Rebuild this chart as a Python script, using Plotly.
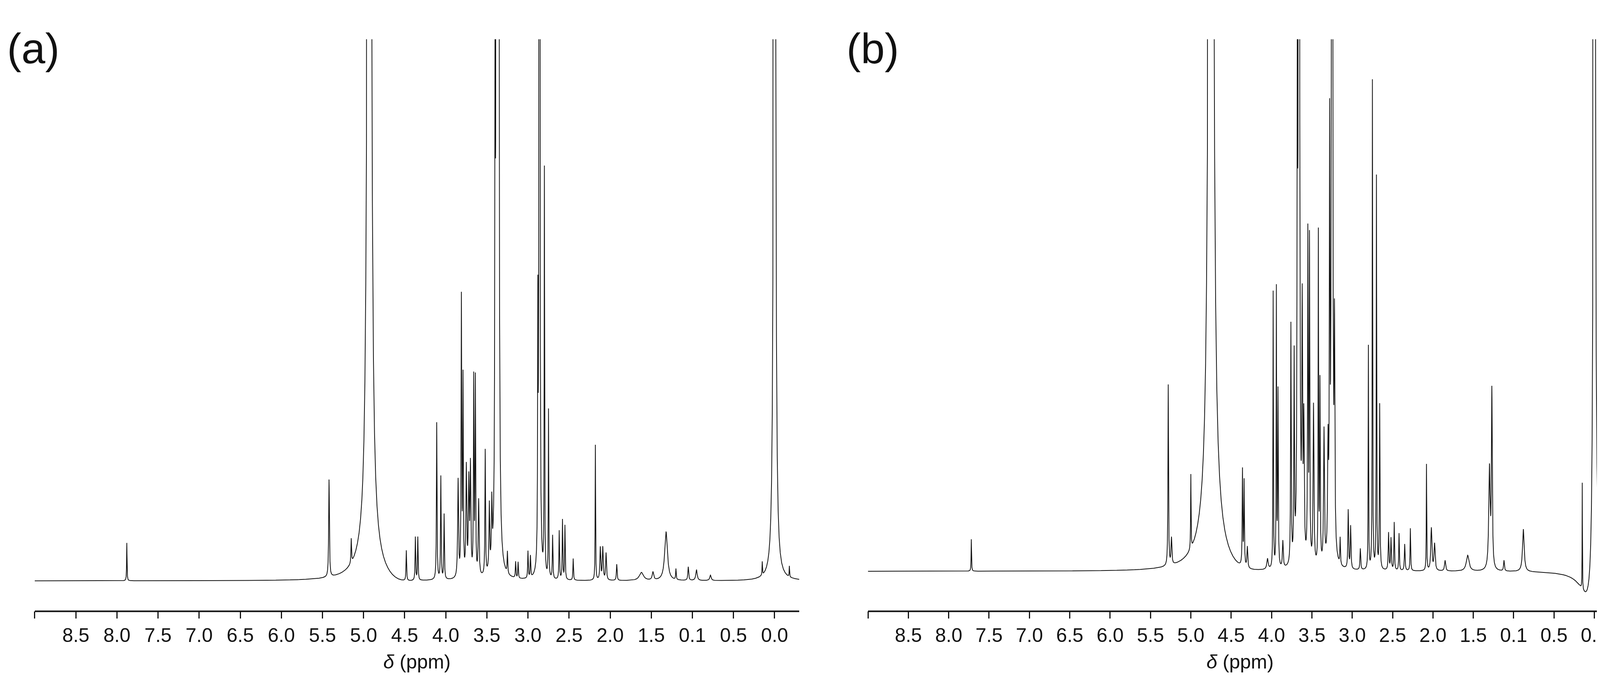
import numpy as np
import plotly.graph_objects as go

# Peak lists: position (ppm), height (relative, 1 = top of plot), half-width (ppm)
a_ppm = [7.88, 5.42, 5.15, 4.93, 4.93, 4.48, 4.37, 4.34, 4.11, 4.06, 4.02, 3.85, 3.81, 3.79, 3.75, 3.72, 3.70,
         3.66, 3.64, 3.60, 3.52, 3.47, 3.44, 3.40, 3.38, 3.36, 3.25, 3.15, 3.12, 3.00, 2.97, 2.88, 2.86,
         2.80, 2.75, 2.70, 2.62, 2.58, 2.55, 2.45, 2.18, 2.12, 2.09, 2.05, 1.92, 1.62, 1.48, 1.32, 1.20,
         1.05, 0.95, 0.78, 0.15, 0.00, -0.18, 4.60]
a_h = [0.07, 0.18, 0.045, 15, 0.05, 0.056, 0.08, 0.08, 0.29, 0.19, 0.12, 0.18, 0.51, 0.36, 0.2, 0.17, 0.2,
       0.36, 0.36, 0.14, 0.23, 0.12, 0.11, 0.79, 6, 6, 0.04, 0.03, 0.03, 0.05, 0.04, 0.43, 6,
       0.75, 0.31, 0.08, 0.09, 0.11, 0.1, 0.04, 0.25, 0.06, 0.06, 0.05, 0.03, 0.015, 0.015, 0.09, 0.02,
       0.025, 0.02, 0.01, 0.025, 10, 0.02, -0.012]
a_w = [0.003, 0.005, 0.004, 0.008, 0.15, 0.004, 0.004, 0.004, 0.004, 0.004, 0.004, 0.006, 0.004, 0.004, 0.006, 0.006, 0.006,
       0.004, 0.004, 0.006, 0.004, 0.005, 0.005, 0.004, 0.004, 0.004, 0.004, 0.004, 0.004, 0.004, 0.004, 0.003, 0.003,
       0.003, 0.003, 0.004, 0.004, 0.004, 0.004, 0.004, 0.003, 0.006, 0.006, 0.006, 0.005, 0.03, 0.01, 0.02, 0.004,
       0.006, 0.01, 0.01, 0.003, 0.005, 0.003, 0.25]

b_ppm = [7.72, 5.28, 5.24, 5.00, 4.75, 4.75, 4.36, 4.34, 4.30, 4.05, 3.98, 3.94, 3.92, 3.86, 3.76, 3.72, 3.68,
         3.66, 3.62, 3.60, 3.55, 3.53, 3.48, 3.42, 3.40, 3.35, 3.30, 3.28, 3.25, 3.22, 3.15, 3.05, 3.02,
         2.90, 2.80, 2.75, 2.70, 2.66, 2.55, 2.52, 2.48, 2.42, 2.35, 2.28, 2.08, 2.02, 1.98, 1.85, 1.57,
         1.30, 1.27, 1.12, 0.88, 0.15, 0.00, -0.18, 0.06, 4.40]
b_h = [0.06, 0.34, 0.05, 0.14, 15, 0.08, 0.18, 0.16, 0.04, 0.02, 0.52, 0.52, 0.33, 0.05, 0.45, 0.38, 0.95,
       6, 0.45, 0.25, 0.61, 0.6, 0.3, 0.62, 0.34, 0.25, 0.2, 0.76, 6, 0.4, 0.05, 0.11, 0.08,
       0.04, 0.42, 0.92, 0.74, 0.31, 0.07, 0.06, 0.09, 0.07, 0.05, 0.08, 0.2, 0.08, 0.05, 0.02, 0.03,
       0.19, 0.33, 0.02, 0.08, 0.2, 10, 0.22, -0.07, -0.012]
b_w = [0.003, 0.004, 0.006, 0.003, 0.01, 0.15, 0.004, 0.004, 0.006, 0.01, 0.003, 0.003, 0.004, 0.006, 0.004, 0.004, 0.004,
       0.004, 0.005, 0.006, 0.004, 0.004, 0.006, 0.003, 0.004, 0.006, 0.006, 0.004, 0.004, 0.005, 0.004, 0.005, 0.005,
       0.005, 0.003, 0.003, 0.003, 0.004, 0.005, 0.005, 0.004, 0.004, 0.005, 0.004, 0.003, 0.008, 0.008, 0.008, 0.02,
       0.01, 0.006, 0.006, 0.012, 0.002, 0.005, 0.004, 0.12, 0.3]

tick_vals = [9.0, 8.5, 8.0, 7.5, 7.0, 6.5, 6.0, 5.5, 5.0, 4.5, 4.0, 3.5, 3.0, 2.5, 2.0, 1.5, 1.0, 0.5, 0.0]
tick_text = ["", "8.5", "8.0", "7.5", "7.0", "6.5", "6.0", "5.5", "5.0", "4.5", "4.0", "3.5", "3.0",
             "2.5", "2.0", "1.5", "0.1", "0.5", "0.0"]

xa = np.linspace(9.0, -0.3, 24000)
xb = np.linspace(9.0, -0.22, 24000)


def spectrum(x, ppm, h, w):
    y = np.zeros_like(x)
    for p, hh, ww in zip(ppm, h, w):
        y += hh / (1 + ((x - p) / ww) ** 2)
    return y


ya = spectrum(xa, a_ppm, a_h, a_w)
yb = spectrum(xb, b_ppm, b_h, b_w)

fig = go.Figure()
fig.add_trace(go.Scatter(x=xa, y=ya, mode="lines", line=dict(color="#111", width=2), xaxis="x", yaxis="y"))
fig.add_trace(go.Scatter(x=xb, y=yb, mode="lines", line=dict(color="#111", width=2), xaxis="x2", yaxis="y2"))

font = "Liberation Sans, Arial"
ax = dict(tickvals=tick_vals, ticktext=tick_text, ticks="outside", ticklen=18,
          tickwidth=3, tickcolor="#111", showline=False, showgrid=False, zeroline=False,
          tickfont=dict(family=font, size=50, color="#111"),
          title=dict(text="<i>δ</i> (ppm)", font=dict(family=font, size=50, color="#111"), standoff=22))

fig.update_layout(
    width=4172, height=1744, showlegend=False, plot_bgcolor="white", paper_bgcolor="white",
    margin=dict(l=0, r=0, t=0, b=0),
    xaxis=dict(domain=[0.0194, 0.4885], range=[9.0, -0.3], anchor="y", **ax),
    xaxis2=dict(domain=[0.5307, 0.9873], range=[9.0, -0.22], anchor="y2", **ax),
    yaxis=dict(domain=[0.107, 0.947], range=[-0.056, 1.0], visible=False),
    yaxis2=dict(domain=[0.107, 0.947], range=[-0.075, 1.0], visible=False),
)
for xr, yr, xe in [("x", "y", -0.3), ("x2", "y2", -0.22)]:
    fig.add_shape(type="line", xref=xr, yref=yr + " domain", x0=9.0, x1=xe, y0=0, y1=0,
                  line=dict(color="#111", width=4))
fig.add_annotation(text="(a)", xref="paper", yref="paper", x=0.002, y=0.97, xanchor="left", yanchor="top",
                   showarrow=False, font=dict(family=font, size=110, color="#111"))
fig.add_annotation(text="(b)", xref="paper", yref="paper", x=0.517, y=0.97, xanchor="left", yanchor="top",
                   showarrow=False, font=dict(family=font, size=110, color="#111"))
fig.write_html("out.html")
